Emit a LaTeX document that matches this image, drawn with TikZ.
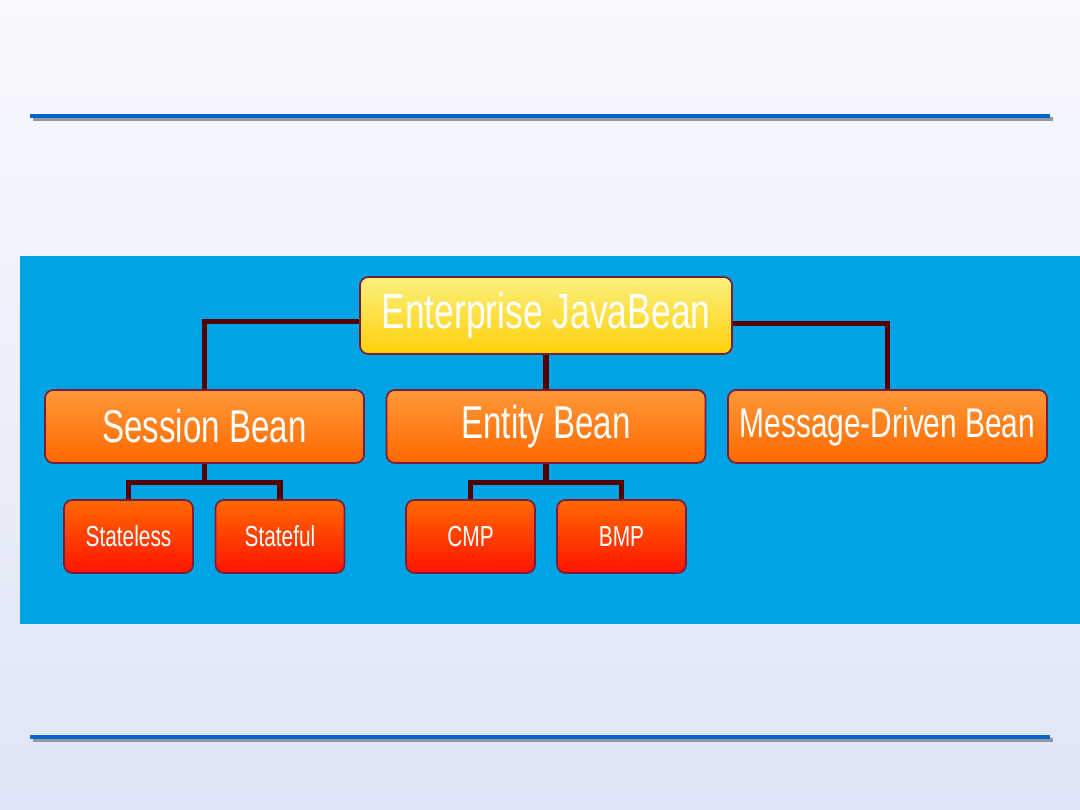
\documentclass[tikz,border=0pt]{standalone}
\usepackage{fontspec}
\usetikzlibrary{positioning}
\newfontfamily\beanfont[FakeStretch=0.72]{Liberation Sans}
\definecolor{PageTop}{RGB}{248,249,254}
\definecolor{PageBottom}{RGB}{223,229,246}
\definecolor{RuleBlue}{RGB}{0,102,204}
\definecolor{RuleShadow}{RGB}{150,150,160}
\definecolor{PanelBlue}{RGB}{0,163,228}
\definecolor{LinkMaroon}{RGB}{85,0,0}
\definecolor{EdgePlum}{RGB}{120,30,60}
\definecolor{YellowTop}{RGB}{251,240,125}
\definecolor{YellowBottom}{RGB}{255,208,10}
\definecolor{OrangeTop}{RGB}{255,152,55}
\definecolor{OrangeBottom}{RGB}{255,104,0}
\definecolor{RedTop}{RGB}{255,105,0}
\definecolor{RedBottom}{RGB}{255,20,0}
\tikzset{
  rootbean/.style={draw=EdgePlum,line width=1.2pt,rounded corners=6pt,
    top color=YellowTop,bottom color=YellowBottom,inner sep=0pt,
    minimum width=9.3cm,minimum height=1.925cm,text=white,
    font=\beanfont\fontsize{35pt}{40pt}\selectfont},
  kindbean/.style={draw=EdgePlum,line width=1.2pt,rounded corners=6pt,
    top color=OrangeTop,bottom color=OrangeBottom,inner sep=0pt,
    minimum width=7.975cm,minimum height=1.825cm,text=white,
    font=\beanfont\fontsize{32.7pt}{38pt}\selectfont},
  subbean/.style={draw=EdgePlum,line width=1.2pt,rounded corners=6pt,
    top color=RedTop,bottom color=RedBottom,inner sep=0pt,
    minimum width=3.225cm,minimum height=1.825cm,text=white,
    font=\beanfont\fontsize{20.6pt}{24pt}\selectfont},
  link/.style={line width=3.6pt,LinkMaroon},
  rule/.style={line width=3pt,RuleBlue},
  ruleshade/.style={line width=3pt,RuleShadow}
}
\begin{document}
\begin{tikzpicture}[x=0.025cm,y=-0.025cm]
  % page
  \useasboundingbox (0,0) rectangle (1080,810);
  \shade[top color=PageTop,bottom color=PageBottom] (0,0) rectangle (1080,810);
  \draw[ruleshade] (33,119) -- (1053,119);
  \draw[rule] (30,116) -- (1050,116);
  \draw[ruleshade] (33,740) -- (1053,740);
  \draw[rule] (30,737) -- (1050,737);
  \fill[PanelBlue] (20,256) rectangle (1080,624);

  % hierarchy
  \node[rootbean] (ejb) at (546,315.5) {\raisebox{-2pt}{Enterprise JavaBean}};
  \node[kindbean] (session) at (204.5,426.5) {\raisebox{-2pt}{Session Bean}};
  \node[kindbean] (entity) at (546,426.5) {\raisebox{-2pt}{Entity Bean}};
  \node[kindbean,font=\beanfont\fontsize{29.5pt}{34pt}\selectfont] (mdb)
    at (887.5,426.5) {\raisebox{-2pt}{Message-Driven Bean}};
  \node[subbean] (stateless) at (128.5,536.5) {Stateless};
  \node[subbean] (stateful) at (280,536.5) {Stateful};
  \node[subbean] (cmp) at (470.5,536.5) {CMP};
  \node[subbean] (bmp) at (621.5,536.5) {BMP};

  \coordinate (ejbleft) at ([yshift=-4pt]ejb.west);
  \coordinate (ejbright) at ([yshift=-6pt]ejb.east);
  \draw[link] (ejbleft) -| (session.north);
  \draw[link] (ejbright) -| (mdb.north);
  \draw[link] (ejb.south) -- (entity.north);
  \draw[link] (session.south) -- ++(0,19) -| (stateless.north);
  \draw[link] (session.south) -- ++(0,19) -| (stateful.north);
  \draw[link] (entity.south) -- ++(0,19) -| (cmp.north);
  \draw[link] (entity.south) -- ++(0,19) -| (bmp.north);
\end{tikzpicture}
\end{document}
